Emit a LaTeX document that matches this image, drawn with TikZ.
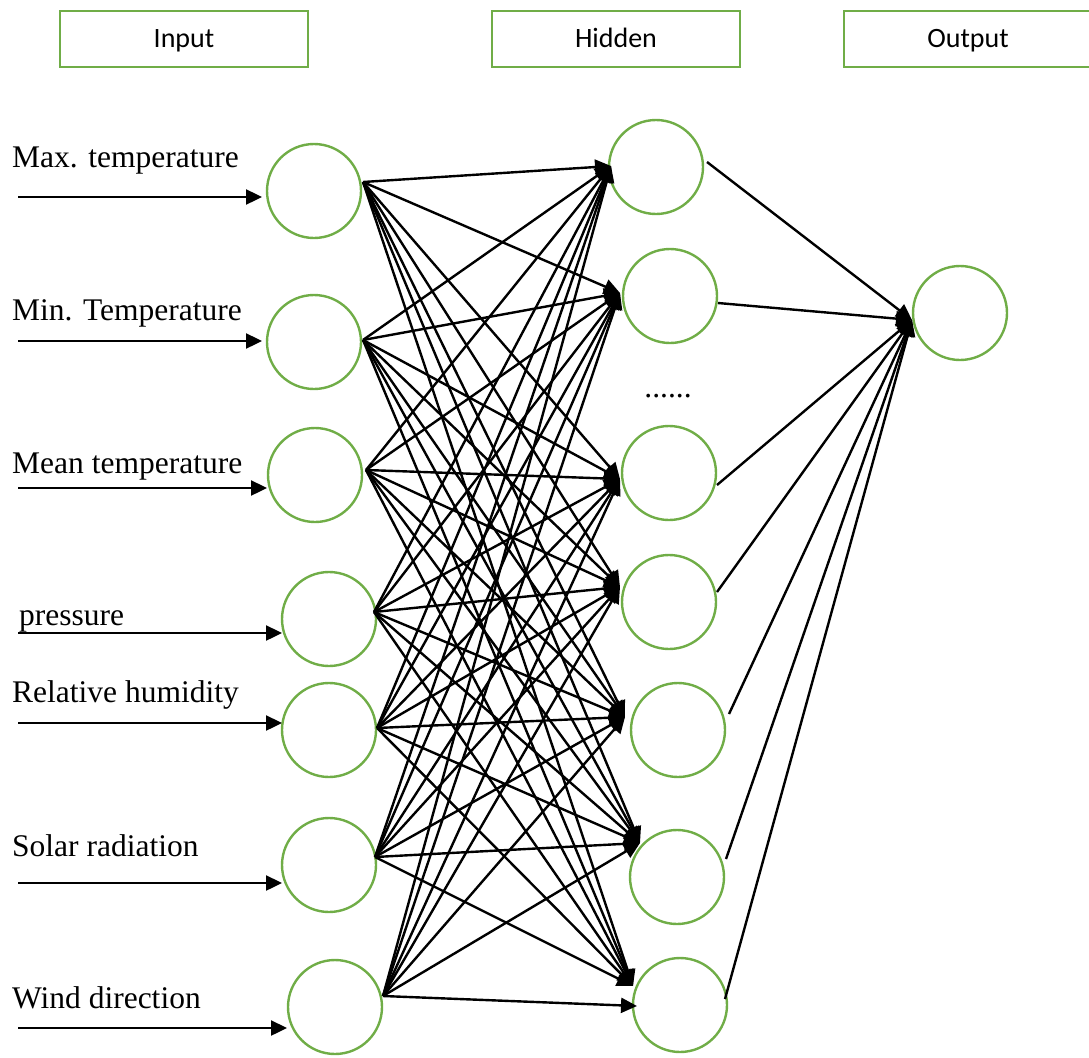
\documentclass[tikz,border=0pt]{standalone}
\usepackage{fontspec}
\setmainfont{Liberation Serif}
\newfontfamily\hdrfont{Carlito}
\usetikzlibrary{arrows.meta}
\definecolor{leaf}{HTML}{70AD47}
\begin{document}
\begin{tikzpicture}[x=1pt,y=-1pt,
  neuron/.style={circle,draw=leaf,line width=2.4pt,minimum size=94pt,inner sep=0pt},
  hdrbox/.style={draw=leaf,line width=2.8pt,minimum width=248pt,minimum height=56pt,inner sep=0pt,
    text height=24pt,text depth=6pt,font=\hdrfont\fontsize{28}{32}\selectfont},
  lbl/.style={anchor=base west,inner sep=0pt,font=\fontsize{31.5}{36}\selectfont},
  conn/.style={line width=2.4pt,-{Triangle[length=16pt,width=15pt]}}]
\useasboundingbox (0,0) rectangle (1089,1057);

% layer headers
\node[hdrbox] (hin)  at (184,39) {Input};
\node[hdrbox] (hhid) at (616,39) {Hidden};
\node[hdrbox] (hout) at (968,39) {Output};

% input neurons
\node[neuron] (i1) at (314,191) {};
\node[neuron] (i2) at (314,342) {};
\node[neuron] (i3) at (315,475) {};
\node[neuron] (i4) at (329,619) {};
\node[neuron] (i5) at (329,730) {};
\node[neuron] (i6) at (329,865) {};
\node[neuron] (i7) at (335,1007) {};

% hidden neurons
\node[neuron] (h1) at (656,167) {};
\node[neuron] (h2) at (670,296) {};
\node[neuron] (h3) at (669,473) {};
\node[neuron] (h4) at (669,602) {};
\node[neuron] (h5) at (678,730) {};
\node[neuron] (h6) at (677,877) {};
\node[neuron] (h7) at (680,1005) {};

% output neuron
\node[neuron] (o1) at (960,313) {};

\node[anchor=base,inner sep=0pt,font=\fontsize{31.5}{36}\selectfont] (dots) at (668,397) {......};

% input labels and feeding arrows
\node[lbl] (l1) at (12,167)  {Max. temperature};
\node[lbl] (l2) at (12,320)  {Min. Temperature};
\node[lbl] (l3) at (12,473)  {Mean temperature};
\node[lbl] (l4) at (19,625)  {pressure};
\node[lbl] (l5) at (12,702)  {Relative humidity};
\node[lbl] (l6) at (12,856)  {Solar radiation};
\node[lbl] (l7) at (12,1008) {Wind direction};

\coordinate (a1) at (18,197);  \coordinate (b1) at (262,197);
\coordinate (a2) at (18,341);  \coordinate (b2) at (262,341);
\coordinate (a3) at (18,488);  \coordinate (b3) at (267,488);
\coordinate (a4) at (18,633);  \coordinate (b4) at (282,633);
\coordinate (a5) at (18,723);  \coordinate (b5) at (282,723);
\coordinate (a6) at (18,883);  \coordinate (b6) at (282,883);
\coordinate (a7) at (18,1028); \coordinate (b7) at (287,1028);
\foreach \k in {1,...,7} \draw[conn] (a\k) -- (b\k);

% connection points on the input side
\coordinate (s1) at (363,182);
\coordinate (s2) at (363,340);
\coordinate (s3) at (366,470);
\coordinate (s4) at (374,612);
\coordinate (s5) at (377,728);
\coordinate (s6) at (375,857);
\coordinate (s7) at (383,996);

% arrow tips at the hidden layer
\coordinate (t1) at (611,166);
\coordinate (t2) at (620,293);
\coordinate (t3) at (620,479);
\coordinate (t4) at (620,587);
\coordinate (t5) at (625,717);
\coordinate (t6) at (640,843);
\coordinate (t7) at (633,986);
\coordinate (t7b) at (637,1006);

% hidden layer outlets and output tip
\coordinate (u1) at (707,162);
\coordinate (u2) at (718,303);
\coordinate (u3) at (717,485);
\coordinate (u4) at (717,592);
\coordinate (u5) at (729,714);
\coordinate (u6) at (726,859);
\coordinate (u7) at (725,999);
\coordinate (ot) at (912,320);

% input -> hidden (fully connected)
\foreach \i in {1,...,6}
  \foreach \j in {1,...,7}
    \draw[conn] (s\i) -- (t\j);
\foreach \j in {1,...,6}
  \draw[conn] (s7) -- (t\j);
\draw[conn] (s7) -- (t7b);

% hidden -> output
\foreach \j in {1,...,7}
  \draw[conn] (u\j) -- (ot);
\end{tikzpicture}
\end{document}
